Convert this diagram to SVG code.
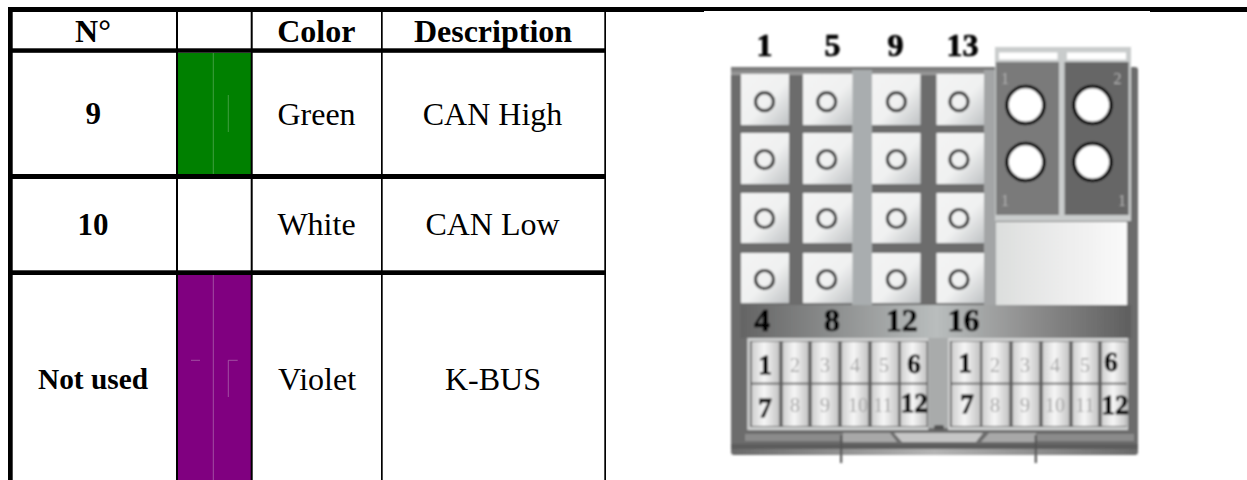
<svg xmlns="http://www.w3.org/2000/svg" width="1247" height="480" viewBox="0 0 1247 480">
<style>
text{font-family:"Liberation Serif","Times New Roman",serif;text-anchor:middle}
.t{font-size:32px;fill:#000}
.k{font-size:29.33px;font-weight:bold;fill:#000}
.b{font-weight:bold}
.n{font-size:32px;font-weight:bold;fill:#000;stroke:#000;stroke-width:.7}
.c{font-size:27px;font-weight:bold;fill:#000;stroke:#000;stroke-width:.8}
.g{font-size:20px;fill:#a8a8a8}
.f{font-size:16px;fill:#b0b0b0}
.pin{fill:none;stroke:#383838;stroke-width:3.200}
.big{fill:#fff;stroke:#000;stroke-width:3.600}
.sq{fill:url(#sq)}
.cell{fill:url(#cell)}
.hl{stroke-width:.7;fill:none}
</style>
<defs>
<linearGradient id="sq" x1="0" y1="0" x2="1" y2="1"><stop offset="0" stop-color="#f4f4f4"/><stop offset=".55" stop-color="#f0f1f1"/><stop offset="1" stop-color="#bfc2c4"/></linearGradient>
<linearGradient id="cell" x1="0" y1="0" x2="1" y2="0"><stop offset="0" stop-color="#cfcfcf"/><stop offset=".45" stop-color="#f6f6f6"/><stop offset="1" stop-color="#c4c4c4"/></linearGradient>
<linearGradient id="band" x1="0" y1="0" x2="1" y2="0"><stop offset="0" stop-color="#646464"/><stop offset=".5" stop-color="#b9bdbd"/><stop offset=".75" stop-color="#8c8c8c"/><stop offset="1" stop-color="#5f5f5f"/></linearGradient>
<linearGradient id="wh" x1="0" y1="0" x2="1" y2="0"><stop offset="0" stop-color="#dcdedd"/><stop offset=".5" stop-color="#ececec"/><stop offset="1" stop-color="#fafafa"/></linearGradient>
<linearGradient id="top" x1="0" y1="0" x2="0" y2="1"><stop offset="0" stop-color="#6f6f6f"/><stop offset="1" stop-color="#a0a0a0"/></linearGradient>
<linearGradient id="foot" x1="0" y1="0" x2="1" y2="0"><stop offset="0" stop-color="#6a6a6a"/><stop offset=".5" stop-color="#b4b4b4"/><stop offset="1" stop-color="#6a6a6a"/></linearGradient>
<filter id="soft" x="-5%" y="-5%" width="110%" height="110%"><feGaussianBlur stdDeviation=".8"/></filter>
</defs>
<rect width="1247" height="480" fill="#fff"/>

<g id="table">
<rect x="178" y="53" width="73" height="121" fill="#008000"/>
<rect x="178" y="275" width="73" height="205" fill="#800080"/>
<path class="hl" stroke="#5cab5c" d="M213.300 53V174M228.300 95V132"/>
<path class="hl" stroke="#b070b0" d="M213.300 275V480M191 360.300H200M237.700 360.300H228.300V397"/>
<g fill="#000">
<rect x="8" y="7" width="1239" height="5"/>
<rect x="8" y="7" width="4.700" height="473"/>
<rect x="176" y="7" width="2" height="473"/>
<rect x="250.700" y="7" width="2" height="473"/>
<rect x="381" y="7" width="1.700" height="473"/>
<rect x="604.300" y="7" width="1.700" height="473"/>
<rect x="8" y="48.300" width="598" height="4.500"/>
<rect x="8" y="174" width="598" height="5"/>
<rect x="8" y="270.300" width="598" height="4.700"/>
</g>
<text class="t b" x="93" y="42.300">N°</text>
<text class="t b" x="316.300" y="42">Color</text>
<text class="t b" x="493" y="42">Description</text>
<text class="k" x="93.300" y="124" style="font-size:31px">9</text>
<text class="t" x="316.500" y="125">Green</text>
<text class="t" x="492.500" y="125">CAN High</text>
<text class="k" x="93" y="235" style="font-size:31px">10</text>
<text class="t" x="316.500" y="235">White</text>
<text class="t" x="492.500" y="235">CAN Low</text>
<text class="k" x="93" y="389.300">Not used</text>
<text class="t" x="317" y="390">Violet</text>
<text class="t" x="493" y="390">K-BUS</text>
</g>
<rect x="704" y="11" width="446" height="1" fill="#fff"/>

<g id="connector" filter="url(#soft)">
<rect x="731" y="67" width="407" height="388" rx="3" fill="#6c6c6c"/>
<rect x="731" y="67" width="265" height="8" fill="url(#top)"/>
<rect x="852" y="70" width="20" height="240" fill="#a9adaf"/>
<rect x="984" y="70" width="12" height="240" fill="#a3a5a6"/>
<rect x="741" y="305" width="390" height="33" fill="url(#band)"/>
<rect x="928" y="338" width="20" height="90" fill="#a9abab"/>
<rect x="934" y="425" width="10" height="5" rx="2" fill="#555"/>

<g id="pins">
<rect class="sq" x="741" y="74" width="48" height="51"/><rect class="sq" x="803" y="74" width="49.500" height="51"/><rect class="sq" x="872" y="74" width="48.500" height="51"/><rect class="sq" x="936.500" y="74" width="47.500" height="51"/>
<rect class="sq" x="741" y="133" width="48" height="51"/><rect class="sq" x="803" y="133" width="49.500" height="51"/><rect class="sq" x="872" y="133" width="48.500" height="51"/><rect class="sq" x="936.500" y="133" width="47.500" height="51"/>
<rect class="sq" x="741" y="193" width="48" height="50"/><rect class="sq" x="803" y="193" width="49.500" height="50"/><rect class="sq" x="872" y="193" width="48.500" height="50"/><rect class="sq" x="936.500" y="193" width="47.500" height="50"/>
<rect class="sq" x="741" y="253" width="48" height="50"/><rect class="sq" x="803" y="253" width="49.500" height="50"/><rect class="sq" x="872" y="253" width="48.500" height="50"/><rect class="sq" x="936.500" y="253" width="47.500" height="50"/>
<circle class="pin" cx="764.500" cy="101.700" r="9"/><circle class="pin" cx="826.700" cy="101.700" r="9"/><circle class="pin" cx="896.400" cy="101.700" r="9"/><circle class="pin" cx="959" cy="101.700" r="9"/>
<circle class="pin" cx="764.500" cy="159.500" r="9"/><circle class="pin" cx="826.700" cy="159.500" r="9"/><circle class="pin" cx="896.400" cy="159.500" r="9"/><circle class="pin" cx="959" cy="159.500" r="9"/>
<circle class="pin" cx="764.500" cy="218.500" r="9"/><circle class="pin" cx="826.700" cy="218.500" r="9"/><circle class="pin" cx="896.400" cy="218.500" r="9"/><circle class="pin" cx="959" cy="218.500" r="9"/>
<circle class="pin" cx="764.500" cy="279.500" r="9"/><circle class="pin" cx="826.700" cy="279.500" r="9"/><circle class="pin" cx="896.400" cy="279.500" r="9"/><circle class="pin" cx="959" cy="279.500" r="9"/>
</g>

<g id="power">
<rect x="995" y="47" width="136" height="174" fill="#c9cccc"/>
<rect x="999" y="52.500" width="58.500" height="7" fill="#fff"/><rect x="1067" y="52.500" width="59" height="7" fill="#fff"/>
<rect x="996" y="62" width="63" height="153" fill="#7a7a7a"/>
<rect x="1064.600" y="62" width="64" height="153" fill="#666"/>
<circle class="big" cx="1025.500" cy="105" r="18.500"/><circle class="big" cx="1092.500" cy="105" r="18.500"/>
<circle class="big" cx="1025.500" cy="162" r="18.500"/><circle class="big" cx="1092.500" cy="162" r="18.500"/>
<text class="f" x="1005" y="84">1</text><text class="f" x="1117.500" y="84">2</text>
<text class="f" x="1005" y="206">1</text><text class="f" x="1122" y="206">1</text>
<rect x="996" y="222" width="131" height="83" fill="url(#wh)"/>
</g>

<g id="block-left">
<rect x="747.300" y="338" width="181" height="92" fill="#cfd0d0"/>
<rect x="750" y="341" width="178" height="86" fill="#5f5f5f"/>
<rect class="cell" x="751.700" y="341.700" width="27.600" height="41"/><rect class="cell" x="782.700" y="341.700" width="25.600" height="41"/><rect class="cell" x="811.700" y="341.700" width="26.600" height="41"/><rect class="cell" x="841.700" y="341.700" width="26.600" height="41"/><rect class="cell" x="871.700" y="341.700" width="26.600" height="41"/><rect class="cell" x="900.700" y="341.700" width="26" height="41"/>
<rect class="cell" x="751.700" y="384.500" width="27.600" height="41.500"/><rect class="cell" x="782.700" y="384.500" width="25.600" height="41.500"/><rect class="cell" x="811.700" y="384.500" width="26.600" height="41.500"/><rect class="cell" x="841.700" y="384.500" width="26.600" height="41.500"/><rect class="cell" x="871.700" y="384.500" width="26.600" height="41.500"/><rect class="cell" x="900.700" y="384.500" width="26" height="41.500"/>
</g>
<g id="block-right">
<rect x="948" y="338" width="180" height="92" fill="#cfd0d0"/>
<rect x="950" y="341" width="177" height="86" fill="#5f5f5f"/>
<rect class="cell" x="951.700" y="341.700" width="28.300" height="41"/><rect class="cell" x="982.300" y="341.700" width="27" height="41"/><rect class="cell" x="1012.700" y="341.700" width="26.600" height="41"/><rect class="cell" x="1042.700" y="341.700" width="26.600" height="41"/><rect class="cell" x="1072.700" y="341.700" width="25.600" height="41"/><rect class="cell" x="1101.700" y="341.700" width="25" height="41"/>
<rect class="cell" x="951.700" y="384.500" width="28.300" height="41.500"/><rect class="cell" x="982.300" y="384.500" width="27" height="41.500"/><rect class="cell" x="1012.700" y="384.500" width="26.600" height="41.500"/><rect class="cell" x="1042.700" y="384.500" width="26.600" height="41.500"/><rect class="cell" x="1072.700" y="384.500" width="25.600" height="41.500"/><rect class="cell" x="1101.700" y="384.500" width="25" height="41.500"/>
</g>

<g id="latch">
<rect x="745" y="434" width="98" height="7" fill="#8b8b8b"/>
<rect x="1036" y="434" width="98" height="7" fill="#8b8b8b"/>
<path d="M843 433H890L897 442H843Z" fill="#a8a8a8"/>
<path d="M894 433H983L976 442H902Z" fill="#c6c6c6"/>
<path d="M989 433H1036V442H981Z" fill="#a8a8a8"/>
<rect x="731" y="444" width="407" height="5" fill="#5c5c5c"/>
<rect x="733" y="449" width="403" height="6" rx="2" fill="url(#foot)"/>
<rect x="840" y="435" width="2.200" height="28" fill="#555"/>
<rect x="1034.700" y="435" width="2.200" height="28" fill="#555"/>
</g>

<g id="labels">
<text class="n" x="764.500" y="56">1</text><text class="n" x="832.600" y="56">5</text><text class="n" x="895.400" y="56">9</text><text class="n" x="962.400" y="56">13</text>
<text class="n" x="762" y="331">4</text><text class="n" x="832" y="331">8</text><text class="n" x="901.700" y="331">12</text><text class="n" x="963.400" y="331">16</text>
<text class="c" x="765" y="374">1</text><text class="g" x="795" y="371.700">2</text><text class="g" x="825" y="371.700">3</text><text class="g" x="855" y="371.700">4</text><text class="g" x="884" y="371.700">5</text><text class="c" x="914" y="373.300">6</text>
<text class="c" x="765" y="416.700">7</text><text class="g" x="795" y="411.700">8</text><text class="g" x="825" y="411.700">9</text><text class="g" x="858" y="411.700">10</text><text class="g" x="883" y="411.700">11</text><text class="c" x="914.300" y="411.700">12</text>
<text class="c" x="965" y="371.700">1</text><text class="g" x="995" y="371.700">2</text><text class="g" x="1025" y="371.700">3</text><text class="g" x="1055" y="371.700">4</text><text class="g" x="1085" y="371.700">5</text><text class="c" x="1111" y="370.700">6</text>
<text class="c" x="967" y="413">7</text><text class="g" x="995" y="411.700">8</text><text class="g" x="1025" y="411.700">9</text><text class="g" x="1055" y="411.700">10</text><text class="g" x="1085" y="411.700">11</text><text class="c" x="1115" y="414">12</text>
</g>
</g>
</svg>
